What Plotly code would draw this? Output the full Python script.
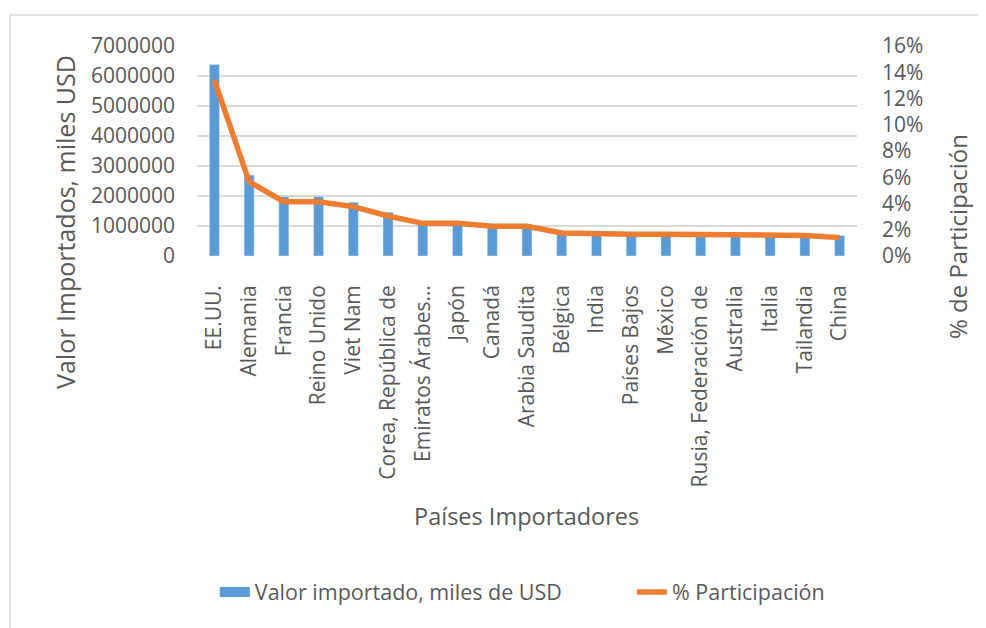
import plotly.graph_objects as go

paises = [
    "EE.UU.", "Alemania", "Francia", "Reino Unido", "Viet Nam",
    "Corea, República de", "Emiratos Árabes…", "Japón", "Canadá",
    "Arabia Saudita", "Bélgica", "India", "Países Bajos", "México",
    "Rusia, Federación de", "Australia", "Italia", "Tailandia", "China",
]
valor_importado = [
    6380000, 2700000, 1980000, 1980000, 1790000,
    1460000, 1150000, 1130000, 1000000,
    950000, 800000, 780000, 770000, 770000,
    760000, 740000, 730000, 730000, 680000,
]
participacion = [
    0.134, 0.0566, 0.0414, 0.0414, 0.0376,
    0.0305, 0.0249, 0.0249, 0.0226,
    0.0226, 0.0175, 0.0168, 0.0166, 0.0166,
    0.0165, 0.0158, 0.0157, 0.0157, 0.0140,
]

FONT = "Open Sans"
GRAY = "#595959"
BLUE = "#5B9BD5"
ORANGE = "#ED7D31"

fig = go.Figure()
fig.add_trace(go.Bar(
    x=paises, y=valor_importado, name="Valor importado, miles de USD",
    marker_color=BLUE, yaxis="y", legendgroup="valor", showlegend=False,
))
# legend entry for the bars: a wide swatch like Excel's
fig.add_trace(go.Scatter(
    x=[None], y=[None], name="Valor importado, miles de USD",
    mode="lines", line=dict(color=BLUE, width=15), legendgroup="valor",
    legend="legend",
))
fig.add_trace(go.Scatter(
    x=paises, y=participacion, name="% Participación",
    mode="lines", line=dict(color=ORANGE, width=5.5), yaxis="y2",
    legend="legend2",
))

legend_style = dict(orientation="h", y=-1.6, xanchor="left", yanchor="middle",
                    font=dict(size=21.5, color=GRAY), bgcolor="rgba(0,0,0,0)")

fig.update_layout(
    width=986, height=628,
    margin=dict(l=189, r=137, t=38, b=380),
    paper_bgcolor="white", plot_bgcolor="white",
    font=dict(family=FONT, color=GRAY, size=20),
    bargap=0.71,
    showlegend=True,
    legend=dict(x=0.027, **legend_style),
    legend2=dict(x=0.659, **legend_style),
    xaxis=dict(type="category", showgrid=False, showline=False, zeroline=False,
               tickangle=-90, tickfont=dict(size=21, color=GRAY), ticklabelstandoff=24),
    yaxis=dict(range=[0, 7000000], dtick=1000000, tickformat="d",
               showgrid=True, gridcolor="#d9d9d9", gridwidth=1.5, zeroline=False,
               tickfont=dict(size=21, color=GRAY), ticklabelstandoff=21),
    yaxis2=dict(range=[0, 0.16], dtick=0.02, tickformat=".0%", overlaying="y",
                side="right", showgrid=False, zeroline=False,
                tickfont=dict(size=21, color=GRAY), ticklabelstandoff=24),
    annotations=[
        dict(text="Valor Importados, miles USD", xref="paper", yref="paper",
             x=-0.2, y=0.162, textangle=-90, showarrow=False,
             font=dict(size=25, color=GRAY), xanchor="center", yanchor="middle"),
        dict(text="% de Participación", xref="paper", yref="paper",
             x=1.1515, y=0.095, textangle=-90, showarrow=False,
             font=dict(size=24, color=GRAY), xanchor="center", yanchor="middle"),
        dict(text="Países Importadores", xref="paper", yref="paper",
             x=0.499, y=-1.238, showarrow=False,
             font=dict(size=23.5, color=GRAY), xanchor="center", yanchor="middle"),
    ],
    shapes=[
        dict(type="rect", xref="paper", yref="paper",
             x0=-0.2833, x1=1.23, y0=-1.85, y1=1.1476,
             line=dict(color="#d9d9d9", width=1.5), fillcolor="rgba(0,0,0,0)",
             layer="below"),
    ],
)

fig.write_html("out.html")
